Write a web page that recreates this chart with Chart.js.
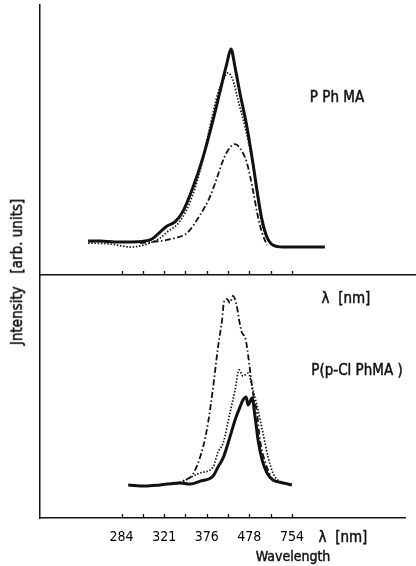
<!DOCTYPE html>
<html>
<head>
<meta charset="utf-8">
<script src="https://cdn.jsdelivr.net/npm/chart.js@4"></script>
<style>
  body { margin: 0; background: #fff; }
  #wrap { position: relative; width: 416px; height: 566px; overflow: hidden;
          font-family: "Liberation Sans Narrow", "DejaVu Sans Condensed", "Liberation Sans", sans-serif; color: #111; }
  canvas { position: absolute; left: 0; }
  .lbl { position: absolute; transform: translate(-50%, -50%); white-space: nowrap; font-size: 15px;
         -webkit-text-stroke: 0.45px #111; }
</style>
</head>
<body>
<div id="wrap">
  <canvas id="top" width="416" height="290" style="top:0"></canvas>
  <canvas id="bottom" width="416" height="291" style="top:275px"></canvas>
  <div class="lbl" style="left:337px;top:97px">P Ph MA</div>
  <div class="lbl" style="left:346px;top:298px">λ &nbsp;[nm]</div>
  <div class="lbl" style="left:357px;top:370px">P(p-Cl PhMA )</div>
  <div class="lbl" style="left:343px;top:537px">λ &nbsp;[nm]</div>
  <div class="lbl" style="left:293px;top:556px;font-size:14px">Wavelength</div>
  <div class="lbl" style="left:17px;top:272px;transform:translate(-50%,-50%) rotate(-90deg)">Jntensity &nbsp;&nbsp;[arb. units]</div>
</div>
<script>
// x is tick index on the (non-linear) wavelength axis, y is intensity in arb. units
const tickPositions = [0, 1, 2, 3, 4, 5, 6, 7, 8];
const tickLabels = ['284', '', '321', '', '376', '', '478', '', '754'];

// PPhMA (top panel)
const pphmaSolid = [[-1.57,15.1],[-1.01,15.1],[-0.31,14.7],[0.40,14.7],[1.10,15.1],[1.43,16.0],[1.81,19.1],[2.14,21.8],[2.51,23.6],[2.89,28.4],[3.36,39.1],[3.83,52.4],[4.30,68.9],[4.72,85.3],[4.95,94.2],[5.14,100.4],[5.33,92.4],[5.56,80.9],[5.89,65.8],[6.17,49.8],[6.41,34.7],[6.60,24.4],[6.83,16.9],[7.11,13.3],[7.58,12.4],[8.38,12.4],[9.55,12.4]];
const pphmaDotted = [[-1.57,14.2],[-0.54,13.8],[0.02,12.9],[0.40,12.4],[0.87,12.9],[1.34,14.2],[1.81,16.4],[2.14,19.1],[2.75,24.0],[3.31,34.7],[3.78,49.8],[4.15,65.8],[4.53,80.9],[4.77,86.7],[5.00,89.8],[5.23,86.7],[5.47,77.8],[5.80,65.8],[6.13,51.1],[6.41,33.3],[6.64,21.3],[6.97,14.2],[7.44,12.4],[7.91,12.4]];
const pphmaDashDot = [[0.87,14.2],[1.81,15.1],[2.51,16.4],[3.08,18.7],[3.69,26.7],[4.15,34.7],[4.48,43.1],[4.72,49.8],[4.95,54.7],[5.33,58.2],[5.56,56.4],[5.89,49.8],[6.17,37.8],[6.41,25.8],[6.60,18.7],[6.83,13.3]];

// P(p-Cl PhMA) (bottom panel)
const pclSolid = [[0.31,14.7],[1.10,14.2],[1.81,14.7],[2.75,15.6],[3.22,15.1],[3.69,16.4],[4.30,18.7],[4.53,22.7],[4.77,26.7],[5.09,36.0],[5.33,43.6],[5.56,49.3],[5.70,52.4],[5.85,53.8],[5.94,50.2],[6.13,53.3],[6.27,44.9],[6.41,34.7],[6.60,25.8],[6.83,20.0],[7.11,16.9],[7.58,15.6],[8.00,14.7]];
const pclDotted = [[2.75,15.6],[3.69,20.0],[4.30,22.7],[4.53,29.3],[4.77,33.3],[5.09,46.7],[5.33,56.9],[5.52,65.8],[5.70,63.1],[5.94,64.4],[6.17,56.9],[6.41,48.0],[6.64,37.8],[6.88,27.1],[7.11,20.0],[7.44,16.0],[7.91,14.7]];
const pclDashDot = [[2.51,15.1],[2.98,16.9],[3.36,19.6],[3.83,31.6],[4.06,42.2],[4.30,58.2],[4.53,76.0],[4.72,88.0],[4.81,96.0],[4.95,97.3],[5.09,95.6],[5.23,98.7],[5.42,93.8],[5.52,88.0],[5.66,82.2],[5.80,80.4],[5.89,76.0],[6.03,65.8],[6.17,55.6],[6.36,46.7],[6.50,34.7],[6.74,24.9],[6.97,19.1]];

const ink = '#111';
const tickFont = '"Liberation Sans Narrow", "DejaVu Sans Condensed", "Liberation Sans", sans-serif';

const innerTicks = {
    id: 'innerTicks',
    afterDraw(chart) {
        const xs = chart.scales.x;
        const ctx = chart.ctx;
        const yb = chart.chartArea.bottom;
        ctx.save();
        ctx.strokeStyle = ink;
        ctx.lineWidth = 1.3;
        for (const v of tickPositions) {
            const px = Math.round(xs.getPixelForValue(v)) + 0.5;
            ctx.beginPath();
            ctx.moveTo(px, yb);
            ctx.lineTo(px, yb - 4);
            ctx.stroke();
        }
        ctx.restore();
    }
};

const line = (pts, style) => {
    const base = {
        data: pts.map(([x, y]) => ({ x, y })),
        borderColor: ink,
        pointRadius: 0,
        cubicInterpolationMode: 'monotone',
        fill: false
    };
    if (style === 'solid') return { ...base, borderWidth: 3 };
    if (style === 'dotted') return { ...base, borderWidth: 1.7, borderDash: [1.5, 1.7] };
    return { ...base, borderWidth: 1.8, borderDash: [6, 2.5, 1.5, 2.5] };
};

const makeChart = (canvas, datasets, xMax, yMax, xHeight, showLabels, padRight) => {
    new Chart(canvas, {
        type: 'line',
        data: { datasets },
        plugins: [innerTicks],
        options: {
            responsive: false,
            animation: false,
            devicePixelRatio: 1,
            layout: { padding: { top: showLabels ? 0 : 5, right: padRight, left: 0, bottom: 0 } },
            plugins: { legend: { display: false }, tooltip: { enabled: false } },
            scales: {
                x: {
                    type: 'linear',
                    min: -3.83,
                    max: xMax,
                    afterBuildTicks: s => { s.ticks = tickPositions.map(v => ({ value: v })); },
                    afterFit: s => { s.height = xHeight; },
                    grid: { drawOnChartArea: false, drawTicks: false },
                    border: { color: ink, width: 1.5 },
                    ticks: {
                        display: showLabels,
                        autoSkip: false,
                        maxRotation: 0,
                        padding: 11,
                        color: '#000',
                        font: { family: tickFont, size: 14 },
                        callback: v => tickLabels[tickPositions.indexOf(v)] ?? ''
                    }
                },
                y: {
                    min: 0,
                    max: yMax,
                    afterFit: s => { s.width = 40; },
                    grid: { drawOnChartArea: false, drawTicks: false },
                    border: { color: ink, width: 1.5 },
                    ticks: { display: false }
                }
            }
        }
    });
};

makeChart(document.getElementById('top'),
    [line(pphmaDashDot, 'dashdot'), line(pphmaDotted, 'dotted'), line(pphmaSolid, 'solid')],
    13.83, 120, 15, false, 0);

makeChart(document.getElementById('bottom'),
    [line(pclDashDot, 'dashdot'), line(pclDotted, 'dotted'), line(pclSolid, 'solid')],
    13.31, 108, 48, true, 11);
</script>
</body>
</html>
